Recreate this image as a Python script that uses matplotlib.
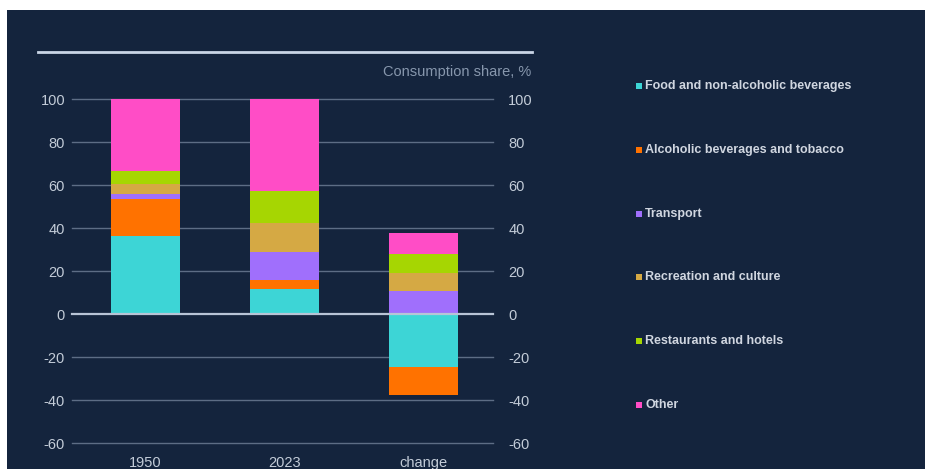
import matplotlib
matplotlib.use("Agg")
import matplotlib.pyplot as plt
from matplotlib.patches import Rectangle
from matplotlib.lines import Line2D
import numpy as np

# ---- data ----
columns = ["1950", "2023", "change"]
categories = ["Food and non-alcoholic beverages", "Alcoholic beverages and tobacco",
              "Transport", "Recreation and culture", "Restaurants and hotels", "Other"]
share_1950 = [36.4, 17.2, 2.4, 4.5, 5.8, 33.7]
share_2023 = [11.8, 4.2, 12.9, 13.2, 15.2, 42.7]
share_change = [-24.7, -13.2, 10.8, 8.3, 8.9, 9.7]
y_ticks = [-60, -40, -20, 0, 20, 40, 60, 80, 100]

colors = ["#3dd5d6", "#ff7200", "#a06ffc", "#d5a944", "#a6d602", "#ff4dc6"]
navy = "#14243d"
tick_col = "#c3ccd8"
grid_col = "#5d6d85"

plt.rcParams["font.family"] = ["Liberation Sans", "DejaVu Sans"]

W, H = 925, 469
fig = plt.figure(figsize=(W / 100, H / 100), dpi=100)
fig.patch.set_facecolor("white")
# navy panel
fig.patches.append(Rectangle((7 / W, 0), 1 - 7 / W, 1 - 10 / H, transform=fig.transFigure,
                             facecolor=navy, edgecolor="none", zorder=-10))

ax_l, ax_r, ax_t, ax_b = 72, 493, 99, 443
ax = fig.add_axes([ax_l / W, 1 - ax_b / H, (ax_r - ax_l) / W, (ax_b - ax_t) / H])
ax.set_facecolor("none")
ax.set_zorder(2)

data = np.array([share_1950, share_2023, share_change])
x = np.arange(len(columns))
pos_base = np.zeros(len(columns))
neg_base = np.zeros(len(columns))
for j, cat in enumerate(categories):
    vals = data[:, j]
    bottoms = np.where(vals >= 0, pos_base, neg_base)
    ax.bar(x, vals, width=0.5, bottom=bottoms, color=colors[j], zorder=3, label=cat)
    pos_base = pos_base + np.where(vals >= 0, vals, 0)
    neg_base = neg_base + np.where(vals < 0, vals, 0)

ax.set_xlim(-0.53, 2.5)
ax.set_ylim(-60, 100)
ax.set_yticks(y_ticks)
ax.set_yticklabels([str(v) for v in y_ticks])
for v in y_ticks:
    if v == 0:
        ax.axhline(v, color="#b8c4d6", lw=1.6, zorder=4, clip_on=False)
    else:
        ax.axhline(v, color=grid_col, lw=1.0, zorder=1, clip_on=False)
for s in ax.spines.values():
    s.set_visible(False)
ax.set_xticks(x)
ax.set_xticklabels(columns)
ax.tick_params(axis="y", length=0, pad=5, labelsize=10.5, labelcolor=tick_col)
ax.tick_params(axis="x", length=0, pad=9, labelsize=10.5, labelcolor=tick_col)

ax2 = ax.twinx()
ax2.set_ylim(-60, 100)
ax2.set_yticks(y_ticks)
ax2.set_yticklabels([str(v) for v in y_ticks])
ax2.tick_params(axis="y", length=0, pad=11, labelsize=10.5, labelcolor=tick_col)
ax2.set_facecolor("none")
for s in ax2.spines.values():
    s.set_visible(False)

# top rule and subtitle
fig.lines.append(Line2D([38 / W, 532 / W], [1 - 52 / H, 1 - 52 / H], transform=fig.transFigure,
                        color="#c9d5e6", lw=2))
fig.text(531 / W, 1 - 72 / H, "Consumption share, %", ha="right", va="center",
         color="#8797ad", fontsize=10.5)

# legend
leg_top, leg_step = 86, 63.8
for i, cat in enumerate(categories):
    yc = leg_top + i * leg_step
    fig.patches.append(Rectangle((636 / W, 1 - (yc + 3) / H), 6 / W, 6 / H,
                                 transform=fig.transFigure, facecolor=colors[i],
                                 edgecolor="none"))
    fig.text(645 / W, 1 - yc / H, cat, ha="left", va="center", color="#d0d6e0",
             fontsize=9, fontweight="bold")

fig.savefig("out.png", dpi=100, facecolor=fig.get_facecolor())
